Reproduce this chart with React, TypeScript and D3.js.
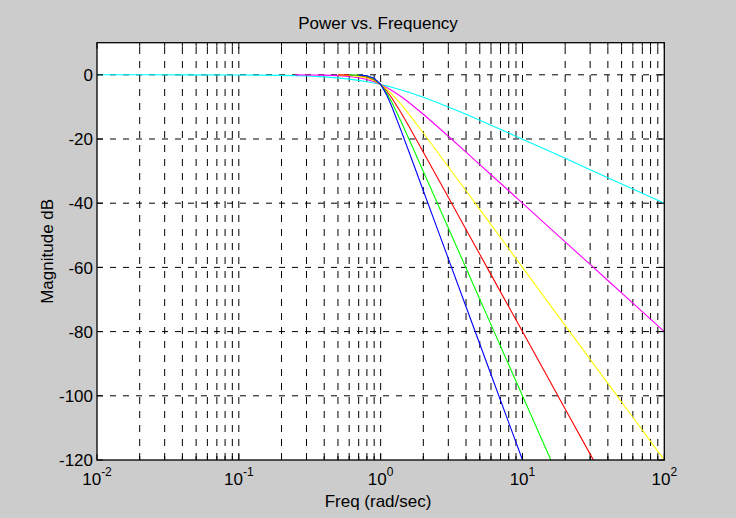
import React from "react";
import * as d3 from "d3";

const freq = [0.01, 0.02, 0.05, 0.1, 0.2, 0.25, 0.3, 0.4, 0.5, 0.6, 0.7, 0.8, 0.9, 1, 1.1, 1.2, 1.4, 1.6, 2, 2.5, 3, 4, 5, 6, 8, 10, 15, 20, 30, 40, 60, 80, 100];

const N = null;
const cyan = [0, 0, -0.01, -0.04, -0.17, -0.26, -0.37, -0.64, -0.97, -1.34, -1.73, -2.15, -2.55, -3.01, -3.44, -3.87, -4.71, -5.51, -6.99, -8.6, -10, -12.3, -14.15, -15.68, -18.13, -20.04, -23.54, -26.03, -29.55, -32.04, -35.56, -38.06, -40];
const magenta = [N, N, N, N, N, -0.02, -0.04, -0.11, -0.26, -0.53, -0.93, -1.49, -2.19, -3.01, -3.92, -4.88, -6.85, -8.78, -12.3, -16.03, -19.14, -24.1, -27.97, -31.13, -36.12, -40, -47.04, -52.04, -59.08, -64.08, -71.13, -76.12, -80];
const yellow = [N, N, N, N, N, N, N, N, -0.07, -0.2, -0.48, -1.01, -1.85, -3.01, -4.43, -6.01, -9.31, -12.5, -18.13, -23.89, -28.63, -36.12, -41.94, -46.69, -54.19, -60, -70.57, -78.06, -88.63, -96.12, -106.69, -114.19, -120];
const red = [N, N, N, N, N, N, N, N, -0.02, -0.07, -0.24, -0.67, -1.55, -3.01, -4.97, -7.24, -11.98, -16.43, -24.1, -31.84, -38.17, -48.16, -55.92, -62.25, -72.25, -80, -94.09, -104.08, -118.17, -128.16, N, N, N];
const green = [N, N, N, N, N, N, N, N, N, -0.03, -0.12, -0.44, -1.3, -3.01, -5.56, -8.57, -14.76, -20.45, -30.11, -39.79, -47.71, -60.21, -69.9, -77.82, -90.31, -100, -117.61, -130.1, N, N, N, N, N];
const blue = [N, N, N, N, N, N, N, N, N, N, -0.06, -0.29, -1.08, -3.01, -6.17, -9.96, -17.61, -24.51, -36.12, -47.75, -57.25, -72.25, -83.88, -93.38, -108.37, -120, N, N, N, N, N, N, N];

const seriesValues = [cyan, magenta, yellow, red, green, blue];
const seriesColors = ["#00ffff", "#ff00ff", "#ffff00", "#ff0000", "#00ff00", "#0000ff"];

const xMajorExp = [-2, -1, 0, 1, 2];
const yTicks = [-120, -100, -80, -60, -40, -20, 0];

const titleText = "Power vs. Frequency";
const xLabelText = "Freq (rad/sec)";
const yLabelText = "Magnitude dB";

const W = 736, H = 518;
const L = 97, R = 664.3, T = 42.7, B = 460;

export default function App() {
  const x = d3.scaleLog().domain([0.01, 100]).range([L, R]);
  const y = d3.scaleLinear().domain([-120, 10]).range([B, T]);

  const minor: number[] = [];
  for (let e = -2; e < 2; e++) {
    for (let k = 2; k <= 9; k++) minor.push(k * Math.pow(10, e));
  }
  const majors = xMajorExp.map((e) => Math.pow(10, e));
  const allV = [...minor, 0.1, 1, 10];

  const line = d3
    .line<number | null>()
    .defined((d) => d !== null)
    .x((_, i) => x(freq[i]))
    .y((d) => y(d as number));

  const font = "'Liberation Sans', Arial, Helvetica, sans-serif";

  return (
    <svg width={W} height={H} style={{ position: "absolute", left: 0, top: 0 }} fontFamily={font}>
      <rect x={0} y={0} width={W} height={H} fill="#cccccc" />
      <rect x={L} y={T} width={R - L} height={B - T} fill="#ffffff" />
      <defs>
        <clipPath id="plotclip">
          <rect x={L} y={T} width={R - L} height={B - T} />
        </clipPath>
      </defs>
      {/* grid */}
      <g stroke="#000" strokeWidth={1} fill="none">
        {allV.map((v, i) => (
          <line key={"gv" + i} x1={x(v)} x2={x(v)} y1={B} y2={T} strokeDasharray="7,7" />
        ))}
        {yTicks.filter((t) => t > -120).map((t) => (
          <line key={"gh" + t} x1={L} x2={R} y1={y(t)} y2={y(t)} strokeDasharray="6,7" />
        ))}
      </g>
      {/* series */}
      <g clipPath="url(#plotclip)" fill="none" strokeWidth={1.1}>
        {seriesValues.map((vals, i) => (
          <path key={"s" + i} d={line(vals) || ""} stroke={seriesColors[i]} />
        ))}
      </g>
      {/* ticks */}
      <g stroke="#000" strokeWidth={1}>
        {minor.map((v, i) => (
          <g key={"mt" + i}>
            <line x1={x(v)} x2={x(v)} y1={B} y2={B - 4} />
            <line x1={x(v)} x2={x(v)} y1={T} y2={T + 4} />
          </g>
        ))}
        {majors.map((v, i) => (
          <g key={"Mt" + i}>
            <line x1={x(v)} x2={x(v)} y1={B} y2={B - 6} />
            <line x1={x(v)} x2={x(v)} y1={T} y2={T + 6} />
          </g>
        ))}
        {yTicks.map((t) => (
          <g key={"yt" + t}>
            <line x1={L} x2={L + 6} y1={y(t)} y2={y(t)} />
            <line x1={R} x2={R - 6} y1={y(t)} y2={y(t)} />
          </g>
        ))}
      </g>
      <rect x={L} y={T} width={R - L} height={B - T} fill="none" stroke="#000" strokeWidth={1.3} />
      {/* tick labels */}
      <g fill="#000">
        {xMajorExp.map((e) => (
          <text key={"xl" + e} x={x(Math.pow(10, e))} y={485} textAnchor="middle" fontSize={17}>
            10
            <tspan fontSize={12} dy={-9}>{String(e)}</tspan>
          </text>
        ))}
        {yTicks.map((t) => (
          <text key={"yl" + t} x={93} y={y(t)} dy="0.36em" textAnchor="end" fontSize={17}>
            {String(t)}
          </text>
        ))}
      </g>
      <text x={378} y={29} textAnchor="middle" fontSize={17} fill="#000">{titleText}</text>
      <text x={378} y={507} textAnchor="middle" fontSize={17} fill="#000">{xLabelText}</text>
      <text transform={`translate(53, ${(T + B) / 2}) rotate(-90)`} textAnchor="middle" fontSize={17} fill="#000">
        {yLabelText}
      </text>
    </svg>
  );
}
